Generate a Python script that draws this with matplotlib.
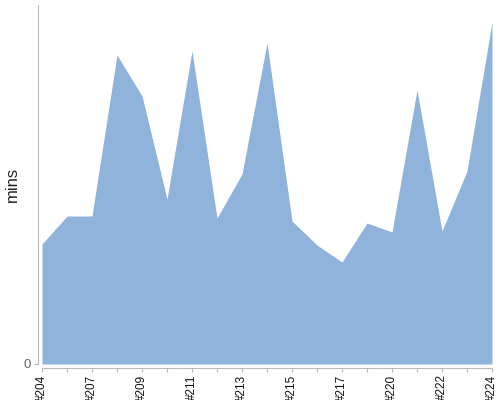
import matplotlib
matplotlib.use("Agg")
import matplotlib.pyplot as plt

plt.rcParams['font.family'] = ['Liberation Sans', 'DejaVu Sans']

categories = ["#204", "#205", "#207", "#208", "#209", "#210", "#211", "#212", "#213", "#214",
              "#215", "#216", "#217", "#218", "#220", "#221", "#222", "#223", "#224"]
values = [12.0, 14.8, 14.8, 30.9, 26.8, 16.5, 31.3, 14.6, 19.0, 32.1,
          14.3, 11.9, 10.2, 14.1, 13.2, 27.4, 13.3, 19.3, 34.2]
shown_labels = ["#204", "#207", "#209", "#211", "#213", "#215", "#217", "#220", "#222", "#224"]

fig = plt.figure(figsize=(5, 4), dpi=100)
ax = fig.add_axes([0.084, 0.09, 0.9, 0.8975])

for s in ["top", "right"]:
    ax.spines[s].set_visible(False)
for s in ["left", "bottom"]:
    ax.spines[s].set_color("#bbbbbb")
    ax.spines[s].set_position(("outward", 3))

x = list(range(len(categories)))
ax.fill_between(x, 0, values, color="#8fb3db", linewidth=0)
ax.set_xlim(0, len(categories) - 1)
ax.set_ylim(0, 35.9)

ax.set_xticks(x)
ax.set_xticklabels([c if c in shown_labels else "" for c in categories])
ax.set_yticks([0])
ax.set_yticklabels(["0"])

ax.tick_params(axis="both", colors="#bbbbbb", length=3)
ax.tick_params(axis="x", labelcolor="#111111", labelrotation=90, pad=1.5, labelsize=8.5)
ax.tick_params(axis="y", labelcolor="#666666", pad=2, labelsize=9.5)

ax.set_ylabel("mins", fontsize=12, color="#222222")
ax.yaxis.set_label_coords(-0.05, 0.5)

fig.savefig("out.png", dpi=100)
